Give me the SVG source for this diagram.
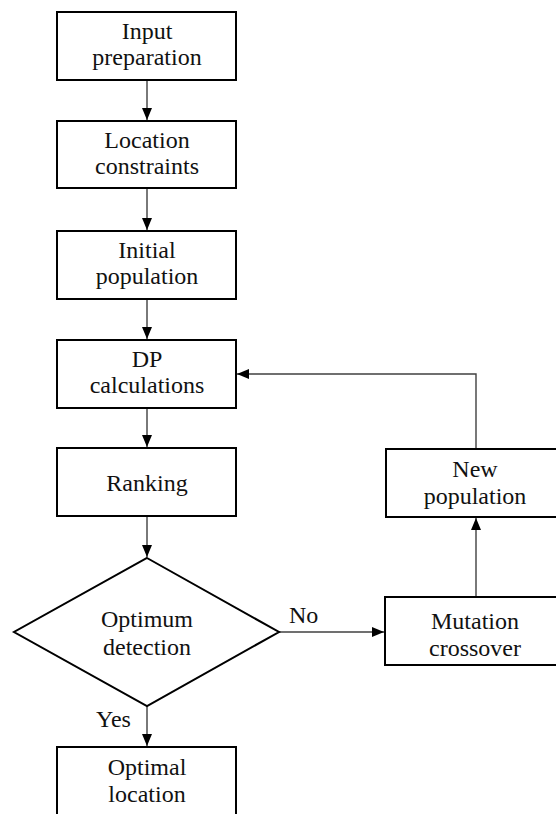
<svg xmlns="http://www.w3.org/2000/svg" width="556" height="814" viewBox="0 0 556 814">
<defs>
<style>
.box{fill:#fff;stroke:#000;stroke-width:2}
.t{font-family:"Liberation Serif","Times New Roman",serif;font-size:24px;fill:#111;text-anchor:middle}
.lbl{font-family:"Liberation Serif","Times New Roman",serif;font-size:24px;fill:#111}
.c{fill:none;stroke:#404040;stroke-width:1.4}
</style>
<marker id="ah" viewBox="0 0 12 12" refX="12" refY="6" markerWidth="12" markerHeight="12" markerUnits="userSpaceOnUse" orient="auto">
<path d="M0,1 L12,6 L0,11 Z" fill="#000"/>
</marker>
</defs>
<rect width="556" height="814" fill="#fff"/>
<g id="connectors">
<line class="c" x1="147" y1="80" x2="147" y2="120" marker-end="url(#ah)"/>
<line class="c" x1="147" y1="188" x2="147" y2="230" marker-end="url(#ah)"/>
<line class="c" x1="147" y1="299" x2="147" y2="339" marker-end="url(#ah)"/>
<line class="c" x1="147" y1="408" x2="147" y2="447" marker-end="url(#ah)"/>
<line class="c" x1="147" y1="516" x2="147" y2="557" marker-end="url(#ah)"/>
<line class="c" x1="147" y1="706" x2="147" y2="746" marker-end="url(#ah)"/>
<line class="c" x1="279" y1="632" x2="384" y2="632" marker-end="url(#ah)"/>
<line class="c" x1="476" y1="597" x2="476" y2="518" marker-end="url(#ah)"/>
<polyline class="c" points="476,449 476,374 237,374" marker-end="url(#ah)"/>
<text class="lbl" x="289" y="623">No</text>
<text class="lbl" x="96" y="727">Yes</text>
</g>
<g id="input">
<rect class="box" x="57" y="12" width="179" height="68"/>
<text class="t" x="147" y="39">Input</text>
<text class="t" x="147" y="65">preparation</text>
</g>
<g id="location">
<rect class="box" x="57" y="121" width="179" height="67"/>
<text class="t" x="147" y="148">Location</text>
<text class="t" x="147" y="174">constraints</text>
</g>
<g id="initial">
<rect class="box" x="57" y="231" width="179" height="68"/>
<text class="t" x="147" y="258">Initial</text>
<text class="t" x="147" y="284">population</text>
</g>
<g id="dp">
<rect class="box" x="57" y="340" width="179" height="68"/>
<text class="t" x="147" y="367">DP</text>
<text class="t" x="147" y="393">calculations</text>
</g>
<g id="ranking">
<rect class="box" x="57" y="448" width="179" height="68"/>
<text class="t" x="147" y="491">Ranking</text>
</g>
<g id="optimum">
<polygon class="box" points="147,558 279,632 147,706 14,632"/>
<text class="t" x="147" y="627">Optimum</text>
<text class="t" x="147" y="655">detection</text>
</g>
<g id="optimal">
<rect class="box" x="57" y="747" width="179" height="70"/>
<text class="t" x="147" y="775">Optimal</text>
<text class="t" x="147" y="802">location</text>
</g>
<g id="mutation">
<rect class="box" x="385" y="597" width="181" height="68"/>
<text class="t" x="475" y="629">Mutation</text>
<text class="t" x="475" y="656">crossover</text>
</g>
<g id="newpop">
<rect class="box" x="386" y="449" width="180" height="68"/>
<text class="t" x="475" y="477">New</text>
<text class="t" x="475" y="504">population</text>
</g>
</svg>
